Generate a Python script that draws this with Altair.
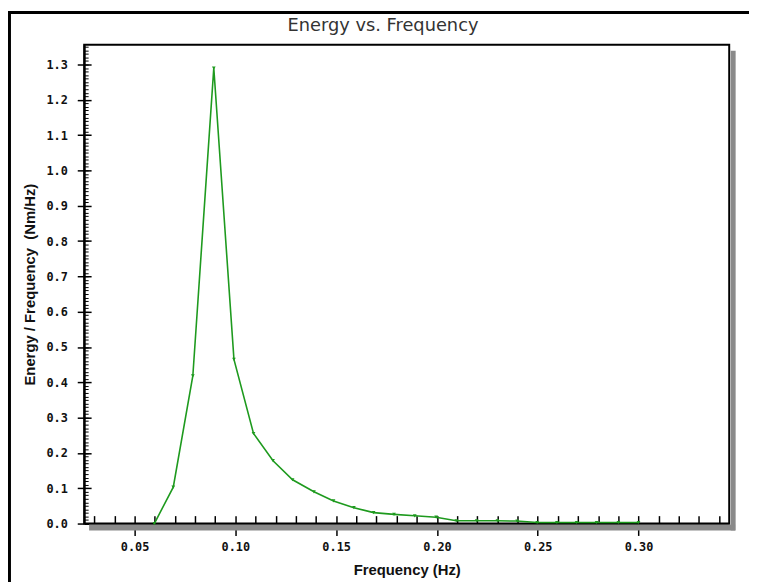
import altair as alt
import pandas as pd

# ---- data ----
freq = [0.0598, 0.0692, 0.0789, 0.0893, 0.0993, 0.1090, 0.1187, 0.1284, 0.1390,
        0.1487, 0.1588, 0.1686, 0.1787, 0.1890, 0.1996, 0.2096, 0.2197, 0.2300,
        0.2398, 0.2497, 0.2595, 0.2693, 0.2792, 0.2900, 0.3000]
energy = [0.0, 0.103, 0.418, 1.29, 0.465, 0.255, 0.178, 0.124, 0.090,
          0.064, 0.045, 0.031, 0.026, 0.022, 0.018, 0.008, 0.008, 0.008,
          0.007, 0.003, 0.003, 0.003, 0.003, 0.003, 0.003]

x_major = [0.05, 0.10, 0.15, 0.20, 0.25, 0.30]
x_minor = [0.03, 0.04, 0.05, 0.06, 0.07, 0.08, 0.09, 0.10, 0.11, 0.12, 0.13, 0.14,
           0.15, 0.16, 0.17, 0.18, 0.19, 0.20, 0.21, 0.22, 0.23, 0.24, 0.25, 0.26,
           0.27, 0.28, 0.29, 0.30, 0.31, 0.32, 0.33, 0.34]
y_major = [0.0, 0.1, 0.2, 0.3, 0.4, 0.5, 0.6, 0.7, 0.8, 0.9, 1.0, 1.1, 1.2, 1.3]
y_minor = [round(i * 0.01, 2) for i in range(136)]

title_text = "Energy vs. Frequency"
x_title = "Frequency (Hz)"
y_title = "Energy / Frequency \u00a0(Nm/Hz)"

GREEN = "#1e9a1e"
W, H = 652, 484
LABEL_FONT = "DejaVu Sans Mono"
TITLE_FONT = "Liberation Sans"

df = pd.DataFrame({"freq": freq, "energy": energy})

xs = alt.Scale(domain=[0.025, 0.345], nice=False, zero=False)
ys = alt.Scale(domain=[0, 1.356], nice=False, zero=False)

base = alt.Chart(df)

line = base.mark_line(color=GREEN, strokeWidth=1.6).encode(
    x=alt.X("freq:Q", scale=xs, title=x_title,
            axis=alt.Axis(orient="bottom", values=x_major, format=".2f",
                          tickSize=12, tickWidth=1.5, tickColor="black",
                          domainColor="black", domainWidth=2,
                          labelFont=LABEL_FONT, labelFontSize=12, labelFontWeight="bold",
                          labelColor="#111", labelPadding=6, labelFlush=False,
                          titleFont=TITLE_FONT, titleFontSize=15, titleFontWeight="bold",
                          titleColor="#111", titlePadding=10, grid=False)),
    y=alt.Y("energy:Q", scale=ys, title=y_title,
            axis=alt.Axis(orient="left", values=y_major, format=".1f",
                          tickSize=7, tickWidth=1.5, tickColor="black",
                          domainColor="black", domainWidth=2,
                          labelFont=LABEL_FONT, labelFontSize=12, labelFontWeight="bold",
                          labelColor="#111", labelPadding=10, labelFlush=False,
                          titleFont=TITLE_FONT, titleFontSize=15, titleFontWeight="bold",
                          titleColor="#111", titlePadding=9, grid=False)),
)

points = base.mark_point(shape="triangle-down", filled=True, size=14,
                         color=GREEN, opacity=1).encode(
    x=alt.X("freq:Q", scale=xs, title="",
            axis=alt.Axis(orient="top", offset=-H, values=x_minor, tickSize=8,
                          tickWidth=1.5, tickColor="black", labels=False,
                          domain=False, grid=False)),
    y=alt.Y("energy:Q", scale=ys, title="",
            axis=alt.Axis(orient="right", offset=-W, values=y_minor, tickSize=4,
                          tickWidth=1, tickColor="black", labels=False,
                          domain=False, grid=False)),
)

major_in = base.mark_point(opacity=0).encode(
    x=alt.X("freq:Q", scale=xs, axis=None),
    y=alt.Y("energy:Q", scale=ys, title="",
            axis=alt.Axis(orient="right", offset=-W, values=y_major, tickSize=7,
                          tickWidth=1.5, tickColor="black", labels=False,
                          domain=False, grid=False)),
)

deco = alt.Chart(pd.DataFrame({"k": [0]}))
shadow_bottom = deco.mark_rule(color="#8a8a8a", strokeWidth=6).encode(
    x=alt.value(5), x2=alt.value(W + 6), y=alt.value(H + 4))
shadow_right = deco.mark_rule(color="#8a8a8a", strokeWidth=5).encode(
    x=alt.value(W + 4), y=alt.value(6), y2=alt.value(H + 7))
frame_left = deco.mark_rule(color="black", strokeWidth=3).encode(
    x=alt.value(-75.5), y=alt.value(-34), y2=alt.value(H + 60))
frame_top = deco.mark_rule(color="black", strokeWidth=3).encode(
    x=alt.value(-77), x2=alt.value(W + 40), y=alt.value(-32.5))

chart = alt.layer(
    shadow_bottom, shadow_right, frame_left, frame_top, major_in, points, line
).resolve_axis(x="independent", y="independent").properties(
    width=W, height=H,
    autosize=alt.AutoSizeParams(type="none"),
    padding={"left": 77, "top": 34, "right": 20, "bottom": 60},
    title=alt.TitleParams(text=title_text, font="DejaVu Sans", fontSize=18,
                          fontWeight="normal", color="#333", anchor="middle",
                          frame="group", dx=-24, dy=40, offset=0,
                          baseline="alphabetic"),
).configure_view(stroke="black", strokeWidth=2)

chart.save("out.html", embed_options={"renderer": "svg", "actions": False})
